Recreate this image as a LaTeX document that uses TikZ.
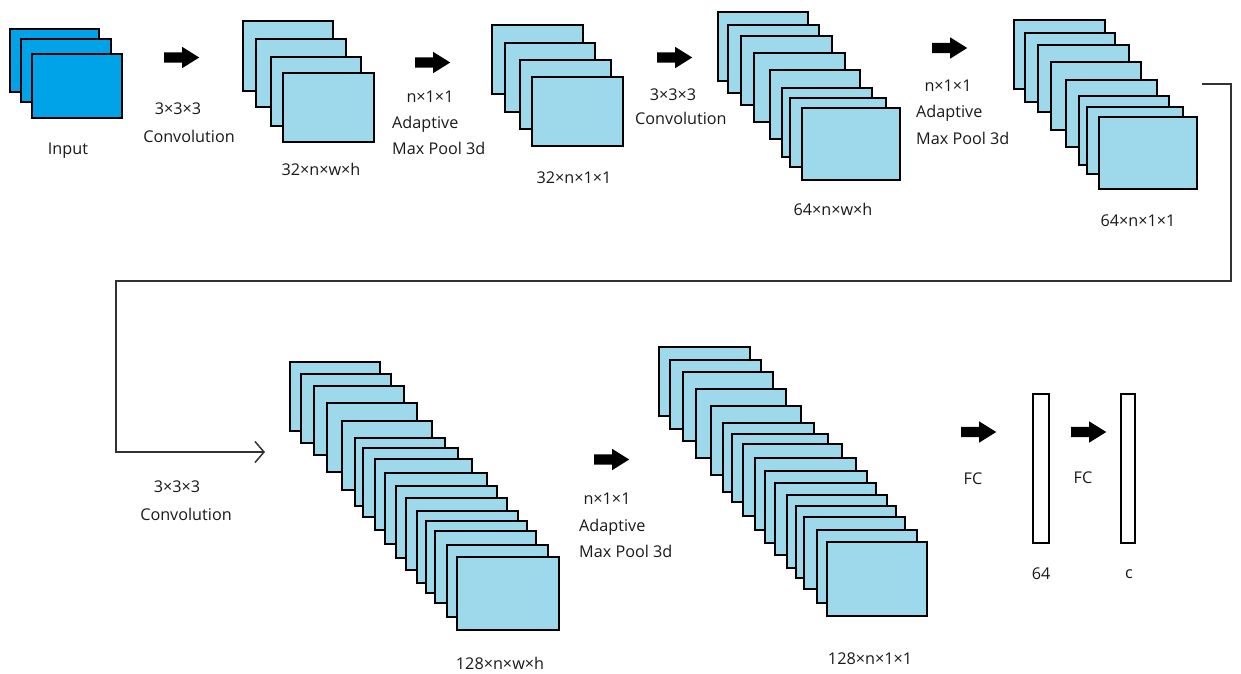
\documentclass[tikz,border=0pt]{standalone}
\usepackage{fontspec}
\setmainfont{Open Sans}
\usetikzlibrary{arrows.meta,shapes.arrows}
\definecolor{fmapblue}{RGB}{157,217,234}
\definecolor{inblue}{RGB}{0,162,232}
\definecolor{linegray}{RGB}{50,50,50}
\begin{document}
\begin{tikzpicture}[x=1pt,y=-1pt,
 fmap/.style={draw=black,line width=1.6pt,fill=fmapblue,inner sep=0pt,outer sep=0pt,anchor=north west},
 inmap/.style={fmap,fill=inblue},
 fcbar/.style={draw=black,line width=1.4pt,fill=white,inner sep=0pt,outer sep=0pt,anchor=north west},
 fatarrow/.style={single arrow,fill=black,draw=none,inner xsep=0pt,inner ysep=5pt,
   single arrow head extend=5.5pt,minimum height=35pt,single arrow tip angle=64,anchor=west},
 lbl/.style={font=\fontsize{16.2}{19}\selectfont,text=black!90,inner sep=0pt,anchor=base},
 lbll/.style={lbl,anchor=base west},
 conn/.style={draw=linegray,line width=1.5pt}]
\useasboundingbox (0,0) rectangle (1241,673);

% ---- input stack
\foreach \a/\b/\c/\d [count=\i] in {10/29/99/92, 21/39/111/102, 32/54/122/118}
  \node[inmap,minimum width={(\c-\a)*1pt},minimum height={(\d-\b)*1pt}] (in\i) at (\a,\b) {};

% ---- stack 1: 32 x n x w x h
\foreach \a/\b/\c/\d [count=\i] in {243/21/333/91, 256/39/346/107, 271/57/361/126, 283/73/374/142}
  \node[fmap,minimum width={(\c-\a)*1pt},minimum height={(\d-\b)*1pt}] (sa\i) at (\a,\b) {};

% ---- stack 2: 32 x n x 1 x 1
\foreach \a/\b/\c/\d [count=\i] in {492/25/583/94, 505/43/595/112, 520/60/611/129, 532/77/623/146}
  \node[fmap,minimum width={(\c-\a)*1pt},minimum height={(\d-\b)*1pt}] (sb\i) at (\a,\b) {};

% ---- stack 3: 64 x n x w x h
\foreach \a/\b/\c/\d [count=\i] in {718/12/808/81, 728/25/819/93, 741/36/832/105, 754/53/845/122,
  770/70/860/139, 782/88/872/157, 790/98/886/167, 802/108/900/180}
  \node[fmap,minimum width={(\c-\a)*1pt},minimum height={(\d-\b)*1pt}] (sc\i) at (\a,\b) {};

% ---- stack 4: 64 x n x 1 x 1
\foreach \a/\b/\c/\d [count=\i] in {1014/20/1105/89, 1025/33/1115/102, 1038/45/1129/112, 1051/62/1141/130,
  1066/80/1157/147, 1079/96/1169/165, 1087/107/1183/174, 1099/117/1197/189}
  \node[fmap,minimum width={(\c-\a)*1pt},minimum height={(\d-\b)*1pt}] (sd\i) at (\a,\b) {};

% ---- stack 5: 128 x n x w x h
\foreach \a/\b/\c/\d [count=\i] in {290/362/380/431, 301/374/391/443, 314/386/404/455, 327/403/417/472,
  342/421/432/490, 355/438/445/506, 363/448/458/517, 375/459/472/530, 385/473/487/544, 396/486/497/558,
  406/498/507/570, 417/511/518/583, 426/521/527/593, 435/531/536/603, 447/545/548/617, 457/557/559/630}
  \node[fmap,minimum width={(\c-\a)*1pt},minimum height={(\d-\b)*1pt}] (se\i) at (\a,\b) {};

% ---- stack 6: 128 x n x 1 x 1
\foreach \a/\b/\c/\d [count=\i] in {659/347/750/416, 670/360/761/429, 683/372/773/441, 696/389/786/458,
  711/406/801/475, 723/423/814/492, 732/434/828/502, 743/444/842/516, 755/458/856/530, 765/471/867/543,
  775/483/876/555, 787/495/887/568, 796/506/896/578, 804/517/905/589, 817/530/917/603, 827/542/927/616}
  \node[fmap,minimum width={(\c-\a)*1pt},minimum height={(\d-\b)*1pt}] (sf\i) at (\a,\b) {};

% ---- FC bars
\node[fcbar,minimum width=16pt,minimum height=149pt] (fc1) at (1033,394) {};
\node[fcbar,minimum width=14pt,minimum height=149pt] (fc2) at (1121,394) {};

% ---- fat arrows
\node[fatarrow] (a1) at (164,57.5) {};
\node[fatarrow] (a2) at (415,62.5) {};
\node[fatarrow] (a3) at (657,57.5) {};
\node[fatarrow] (a4) at (932,48) {};
\node[fatarrow] (a5) at (594,459.5) {};
\node[fatarrow] (a6) at (961,432) {};
\node[fatarrow] (a7) at (1071,432) {};

% ---- elbow connector from row 1 to row 2
\coordinate (cstart) at (1202,84);
\coordinate (cend) at (265,452);
\draw[conn,-{Straight Barb[length=9pt,width=21pt,line width=1.5pt]}]
  (cstart) -- (1231,84) -- (1231,281) -- (116,281) -- (116,452) -- (cend);

% ---- labels
\node[lbl] (tin) at (68,154) {Input};
\node[lbl] (t1a) at (178,114) {3×3×3};
\node[lbl] (t1b) at (189,142) {Convolution};
\node[lbl] (l1) at (321,175) {32×n×w×h};
\node[lbl] (t2a) at (430,102) {n×1×1};
\node[lbll] (t2b) at (392,128) {Adaptive};
\node[lbll] (t2c) at (392,154) {Max Pool 3d};
\node[lbl] (l2) at (574,183) {32×n×1×1};
\node[lbl] (t3a) at (673,100) {3×3×3};
\node[lbll] (t3b) at (635,124) {Convolution};
\node[lbl] (l3) at (833,215) {64×n×w×h};
\node[lbl] (t4a) at (948,91) {n×1×1};
\node[lbll] (t4b) at (916,117) {Adaptive};
\node[lbll] (t4c) at (916,144) {Max Pool 3d};
\node[lbl] (l4) at (1138,226) {64×n×1×1};
\node[lbl] (t5a) at (177,492) {3×3×3};
\node[lbl] (t5b) at (186,520) {Convolution};
\node[lbl] (l5) at (500,669) {128×n×w×h};
\node[lbl] (t6a) at (607,504) {n×1×1};
\node[lbll] (t6b) at (579,531) {Adaptive};
\node[lbll] (t6c) at (579,557) {Max Pool 3d};
\node[lbl] (l6) at (870,664) {128×n×1×1};
\node[lbl] (t7) at (973,484) {FC};
\node[lbl] (t8) at (1083,483) {FC};
\node[lbl] (l7) at (1041,579) {64};
\node[lbl] (l8) at (1129,578) {c};
\end{tikzpicture}
\end{document}
